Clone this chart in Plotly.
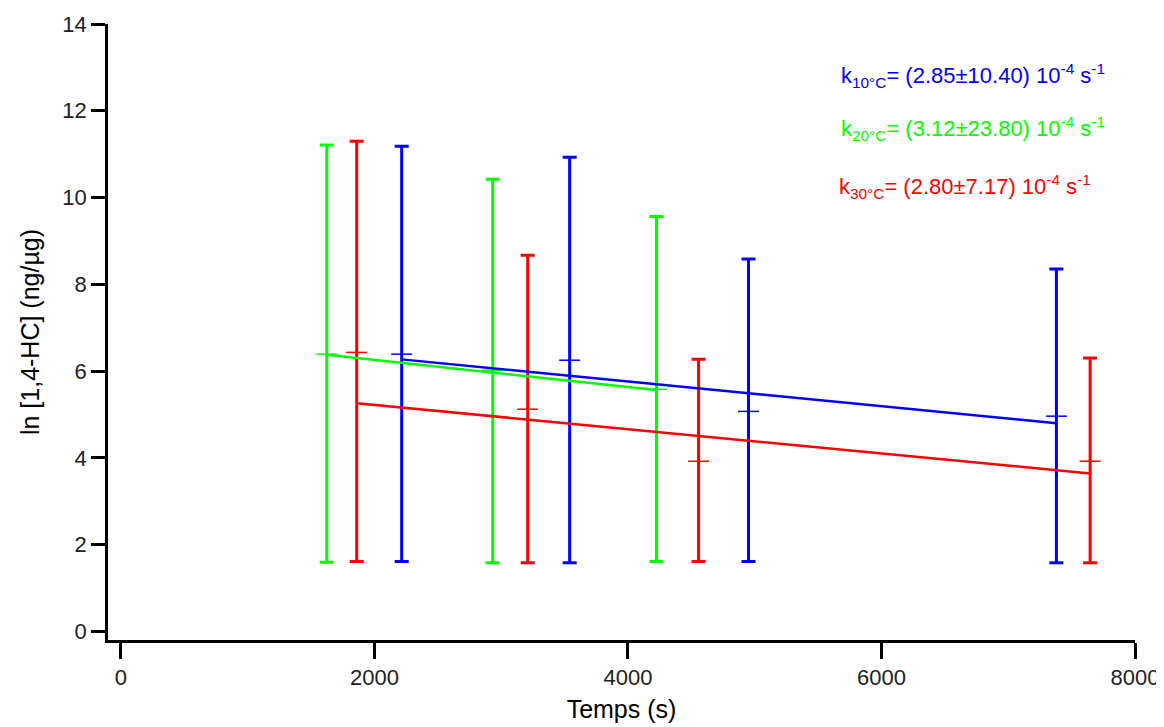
import plotly.graph_objects as go

# ---- data ----
blue_x = [2215, 3540, 4951, 7380]
blue_y = [6.39, 6.25, 5.07, 4.96]
blue_hi = [11.18, 10.93, 8.58, 8.35]
blue_lo = [1.61, 1.58, 1.61, 1.58]

green_x = [1624, 2933, 4225]
green_y = [6.39, 6.02, 5.58]
green_hi = [11.21, 10.42, 9.56]
green_lo = [1.59, 1.58, 1.61]

red_x = [1860, 3209, 4557, 7646]
red_y = [6.43, 5.12, 3.92, 3.92]
red_hi = [11.30, 8.67, 6.27, 6.30]
red_lo = [1.61, 1.58, 1.61, 1.58]

# fits: ln C = a - k t   (k in 1e-4 s^-1)
fit_a = {"blue": 6.90, "green": 6.88, "red": 5.78}
fit_k = {"blue": 2.85, "green": 3.12, "red": 2.80}
fit_err = {"blue": 10.40, "green": 23.80, "red": 7.17}
temps = {"blue": "10°C", "green": "20°C", "red": "30°C"}

colors = {"blue": "#0000FF", "green": "#00FF00", "red": "#FF0000"}
series = {
    "blue": (blue_x, blue_y, blue_hi, blue_lo),
    "green": (green_x, green_y, green_hi, green_lo),
    "red": (red_x, red_y, red_hi, red_lo),
}

FONT = "Arial, Liberation Sans, sans-serif"
fig = go.Figure()

for name in ["green", "red", "blue"]:
    xs, ys, hi, lo = series[name]
    c = colors[name]
    fig.add_trace(go.Scatter(
        x=xs, y=ys, mode="markers",
        marker=dict(symbol="line-ew", size=15, line=dict(color=c, width=1.5)),
        error_y=dict(type="data", symmetric=False,
                     array=[h - y for h, y in zip(hi, ys)],
                     arrayminus=[y - l for l, y in zip(lo, ys)],
                     color=c, thickness=3, width=7),
        showlegend=False, hoverinfo="skip", cliponaxis=False,
    ))

for name in ["green", "red", "blue"]:
    xs = series[name][0]
    x0, x1 = xs[0], xs[-1]
    a, k = fit_a[name], fit_k[name] * 1e-4
    fig.add_trace(go.Scatter(
        x=[x0, x1], y=[a - k * x0, a - k * x1], mode="lines",
        line=dict(color=colors[name], width=2.5),
        showlegend=False, hoverinfo="skip",
    ))

ann_y = {"blue": 12.82, "green": 11.6, "red": 10.26}
ann_x = {"blue": 5668, "green": 5668, "red": 5652}
for name in ["blue", "green", "red"]:
    fig.add_annotation(
        x=ann_x[name], y=ann_y[name], xref="x", yref="y",
        xanchor="left", yanchor="middle", showarrow=False,
        text=f"k<sub>{temps[name]}</sub>= ({fit_k[name]:.2f}±{fit_err[name]:.2f}) 10<sup>-4</sup> s<sup>-1</sup>",
        font=dict(family=FONT, size=22, color=colors[name]),
    )

# the page adds an 8px body margin, so the figure is 8px smaller and shifted
fig.update_layout(
    width=1156, height=719,
    margin=dict(l=100, r=29, t=16, b=87),
    paper_bgcolor="white", plot_bgcolor="white",
    font=dict(family=FONT, color="black"),
)
fig.update_xaxes(
    range=[-102, 8000], tickvals=[0, 2000, 4000, 6000, 8000],
    showline=True, linecolor="black", linewidth=2.5,
    ticks="outside", ticklen=16, tickwidth=2.5, tickcolor="black",
    showgrid=False, zeroline=False, automargin=False,
    tickfont=dict(family=FONT, size=22, color="#222222"),
    title=dict(text="Temps (s)", font=dict(family=FONT, size=25), standoff=12),
)
fig.update_yaxes(
    range=[-0.2, 14], tickvals=[0, 2, 4, 6, 8, 10, 12, 14],
    showline=True, linecolor="black", linewidth=2.5,
    ticks="outside", ticklen=14, tickwidth=2.5, tickcolor="black",
    showgrid=False, zeroline=False, automargin=False,
    tickfont=dict(family=FONT, size=22, color="#222222"),
    title=dict(text="ln [1,4-HC] (ng/µg)", font=dict(family=FONT, size=25), standoff=16),
)

fig.write_html("out.html")
